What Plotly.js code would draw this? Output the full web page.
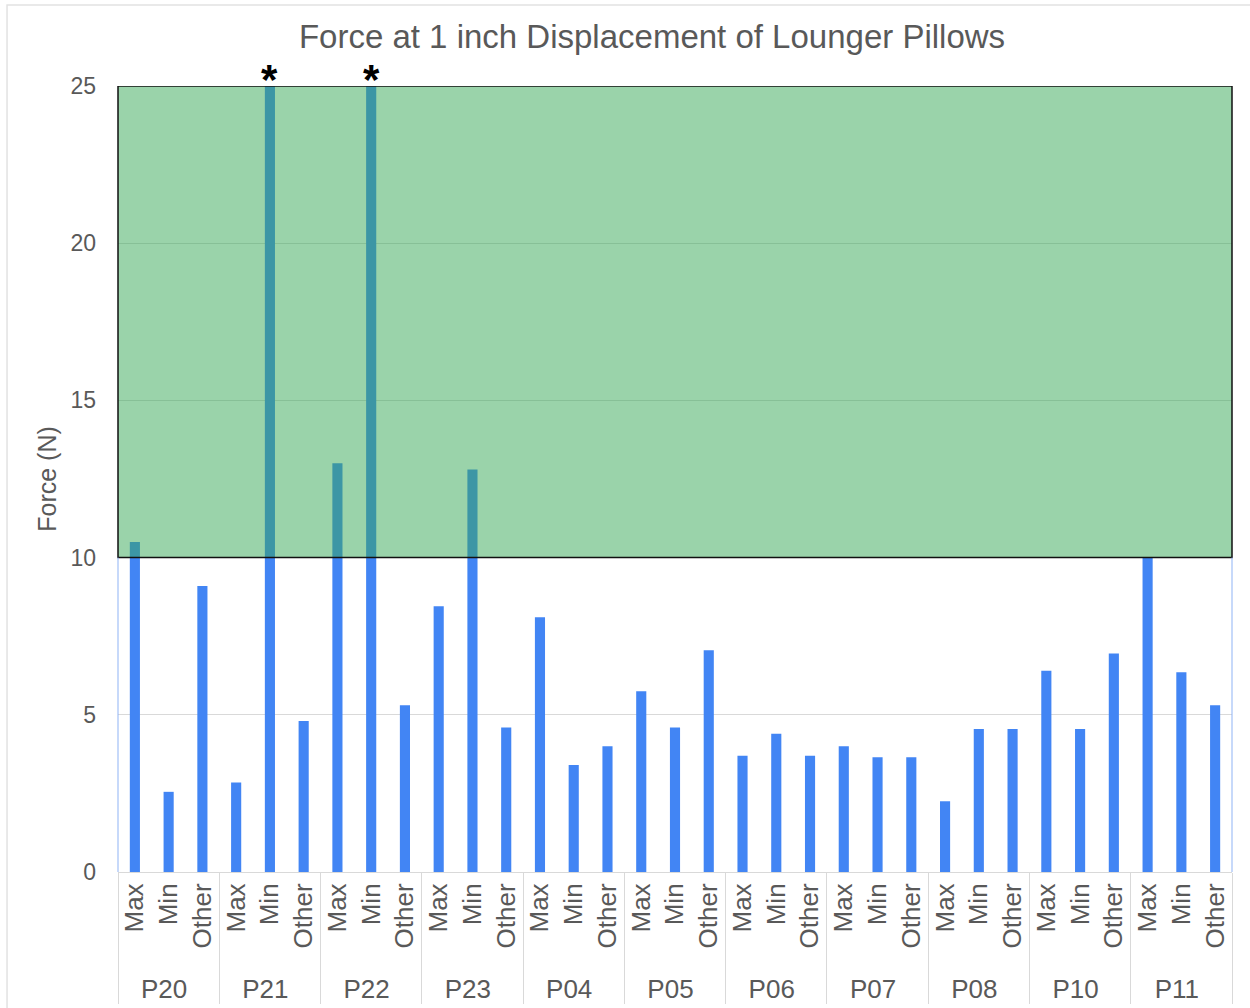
<!DOCTYPE html>
<html>
<head>
<meta charset="utf-8">
<script src="https://cdn.plot.ly/plotly-3.0.1.min.js"></script>
<style>
html,body{margin:0;padding:0;background:#fff;}
#chart{width:1250px;height:1008px;}
</style>
</head>
<body>
<div id="chart"></div>
<script>
// Data
const pillows = ["P20","P21","P22","P23","P04","P05","P06","P07","P08","P10","P11"];
const positions = ["Max","Min","Other"];
// Force (N) per pillow, in order Max, Min, Other. Values above 25 run off the chart (marked with *).
const maxForce   = [10.5, 2.85, 13.0, 8.45, 8.1, 5.75, 3.7, 4.0, 2.25, 6.4, 10.0];
const minForce   = [2.55, 30,   30,   12.8, 3.4, 4.6,  4.4, 3.65, 4.55, 4.55, 6.35];
const otherForce = [9.1,  4.8,  5.3,  4.6,  4.0, 7.05, 3.7, 3.65, 4.55, 6.95, 5.3];
const yTicks = [0, 5, 10, 15, 20, 25];
const yMax = 25;
const threshold = 10;

const outer = [], inner = [], vals = [];
pillows.forEach((p, i) => {
  [maxForce[i], minForce[i], otherForce[i]].forEach((v, j) => {
    outer.push(p); inner.push(positions[j]); vals.push(v);
  });
});

const FONT = 'Liberation Sans, Arial, sans-serif';
const GREY = '#595959';

const trace = {
  type: 'bar',
  x: [outer, inner],
  y: vals,
  marker: {color: '#4285f4'},
  hoverinfo: 'y'
};

const annotations = [];
vals.forEach((v, i) => {
  if (v > yMax) {
    annotations.push({
      x: i, y: yMax, xref: 'x', yref: 'y',
      text: '<b>*</b>', showarrow: false,
      yanchor: 'bottom', yshift: -19,
      font: {family: FONT, size: 42, color: '#000'}
    });
  }
});

const layout = {
  width: 1250, height: 1008,
  margin: {l: 118, r: 18, t: 86, b: 136},
  paper_bgcolor: '#fff', plot_bgcolor: '#fff',
  bargap: 0.7,
  showlegend: false,
  title: {
    text: 'Force at 1 inch Displacement of Lounger Pillows',
    x: 0.5216, xanchor: 'center', y: 0.9638, yanchor: 'middle', yref: 'container',
    font: {family: FONT, size: 33, color: GREY}
  },
  xaxis: {
    type: 'multicategory',
    tickangle: -90,
    tickfont: {family: FONT, size: 26, color: GREY},
    showdividers: true, dividercolor: '#d9d9d9', dividerwidth: 1,
    showline: true, linecolor: '#d9d9d9', linewidth: 1,
    ticks: '', showgrid: false
  },
  yaxis: {
    range: [0, yMax],
    tickvals: yTicks,
    ticktext: yTicks.map(String),
    tickfont: {family: FONT, size: 23, color: GREY},
    title: {text: 'Force (N)', font: {family: FONT, size: 25, color: GREY}, standoff: 6},
    gridcolor: '#d9d9d9', gridwidth: 1,
    zeroline: false, showline: false, ticks: '', ticklen: 0,
    ticklabelstandoff: 21
  },
  shapes: [
    {type: 'rect', xref: 'paper', yref: 'paper', x0: -0.0996, x1: 1.2, y0: -0.3, y1: 1.1031,
     fillcolor: 'rgba(0,0,0,0)', layer: 'below', line: {color: '#e2e2e2', width: 1.5}},
    {type: 'rect', xref: 'paper', yref: 'y', x0: 0, x1: 1, y0: threshold, y1: yMax,
     fillcolor: 'rgb(53,167,85)', opacity: 0.5, layer: 'above', line: {width: 0}},
    {type: 'rect', xref: 'paper', yref: 'y', x0: 0, x1: 1, y0: threshold, y1: yMax,
     fillcolor: 'rgba(0,0,0,0)', layer: 'above', line: {color: '#111', width: 1.5}},
    {type: 'line', xref: 'paper', yref: 'y', x0: 0, x1: 0, y0: 0, y1: threshold,
     layer: 'above', line: {color: '#8fb3f5', width: 1}},
    {type: 'line', xref: 'paper', yref: 'y', x0: 1, x1: 1, y0: 0, y1: threshold,
     layer: 'above', line: {color: '#8fb3f5', width: 1}}
  ],
  annotations: annotations
};

Plotly.newPlot('chart', [trace], layout, {displayModeBar: false, staticPlot: true});
</script>
</body>
</html>
